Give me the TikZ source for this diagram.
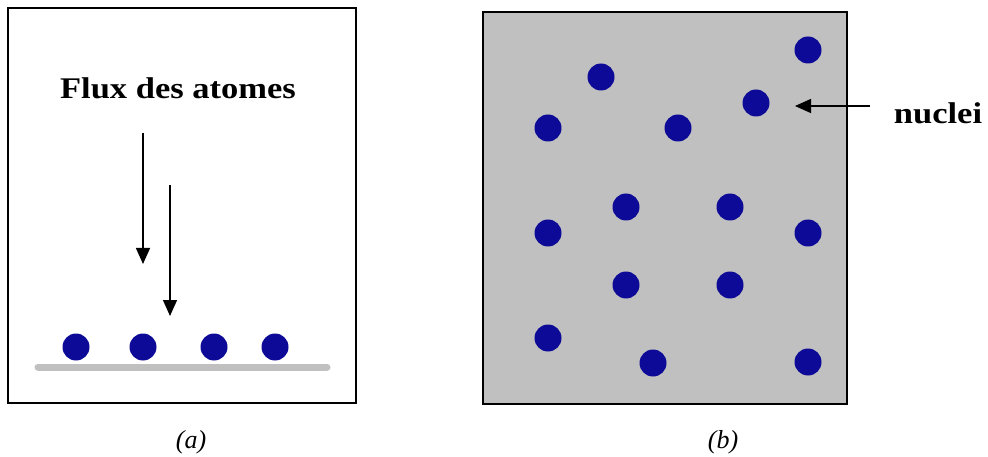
\documentclass[tikz,border=0pt]{standalone}
\usepackage{fontspec}
\setmainfont{Liberation Serif}
\usetikzlibrary{arrows.meta}
\definecolor{nucblue}{RGB}{12,10,150}
\definecolor{subgray}{RGB}{192,192,192}

\begin{document}
\begin{tikzpicture}[x=1pt,y=-1pt,
  every node/.style={font=\fontsize{30}{33}\selectfont\bfseries},
  dot/.style={circle,fill=nucblue,inner sep=0pt,minimum size=27pt},
  flux/.style={-{Triangle[length=16pt,width=14pt]},line width=1.4pt},
  caption/.style={font=\fontsize{26}{30}\selectfont\itshape,anchor=base}]
\useasboundingbox (0,0) rectangle (988,457);

% (a) atoms arriving on the substrate
\draw[line width=1.5pt] (8,8) rectangle (356,403);
\draw[subgray,line width=7pt,line cap=round] (38,367) -- (327,367);
\foreach \x [count=\i] in {76,143,214,275}
  \node[dot] (a\i) at (\x,347) {};
\node[anchor=base] (flux) at (178,99) {\scalebox{1.15}[1]{Flux des atomes}};
\coordinate (f1s) at (143,133); \coordinate (f1e) at (143,264);
\coordinate (f2s) at (170,185); \coordinate (f2e) at (170,316);
\draw[flux] (f1s) -- (f1e);
\draw[flux] (f2s) -- (f2e);
\node[caption] (capa) at (191,448) {(a)};

% (b) nuclei on the surface
\draw[line width=1.5pt,fill=subgray] (483,12) rectangle (847,404);
\foreach \x/\y [count=\i] in {808/50,601/77,756/103,548/128,678/128,626/207,730/207,
    548/233,808/233,626/285,730/285,548/338,653/363,808/362}
  \node[dot] (n\i) at (\x,\y) {};
\node[anchor=base] (nuclei) at (938,124) {\scalebox{1.15}[1]{nuclei}};
\coordinate (ntail) at (870,106); \coordinate (ntip) at (795,106);
\draw[flux] (ntail) -- (ntip);
\node[caption] (capb) at (723,448) {(b)};
\end{tikzpicture}
\end{document}
